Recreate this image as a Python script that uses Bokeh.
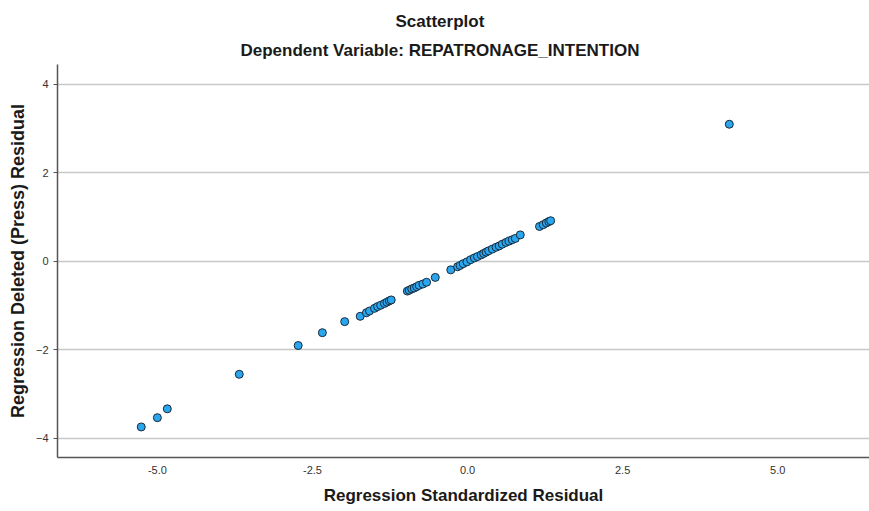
from bokeh.plotting import figure
from bokeh.models import Title, FixedTicker, CustomJSTickFormatter, Range1d
from bokeh.embed import file_html
from bokeh.resources import INLINE

# Regression Standardized Residual (x) vs Regression Deleted (Press) Residual (y)
x_resid = [-5.26, -5.00, -4.84, -3.68, -2.73, -2.34, -1.98, -1.73, -1.63, -1.58,
           -1.50, -1.45, -1.40, -1.34, -1.30, -1.26, -1.23,
           -0.97, -0.94, -0.90, -0.86, -0.82, -0.78, -0.72, -0.66, -0.52,
           -0.27, -0.16, -0.12, -0.07, -0.01, 0.05, 0.11, 0.16, 0.22, 0.26,
           0.30, 0.34, 0.40, 0.46, 0.51, 0.56, 0.62, 0.67, 0.72, 0.77, 0.85,
           1.16, 1.22, 1.27, 1.31, 1.34, 4.22]
y_press = [-3.74, -3.53, -3.33, -2.55, -1.90, -1.61, -1.36, -1.24, -1.16, -1.12,
           -1.06, -1.02, -0.99, -0.95, -0.92, -0.89, -0.87,
           -0.67, -0.65, -0.62, -0.60, -0.57, -0.54, -0.51, -0.47, -0.36,
           -0.19, -0.12, -0.09, -0.05, -0.01, 0.04, 0.08, 0.11, 0.15, 0.18,
           0.21, 0.24, 0.28, 0.32, 0.35, 0.39, 0.43, 0.46, 0.49, 0.52, 0.60,
           0.79, 0.83, 0.87, 0.90, 0.92, 3.10]
x_ticks = [-5.0, -2.5, 0.0, 2.5, 5.0]
y_ticks = [-4, -2, 0, 2, 4]

FONT = "Liberation Sans"

p = figure(width=869, height=511, output_backend="svg", toolbar_location=None,
           x_range=Range1d(-6.61, 6.48), y_range=Range1d(-4.43, 4.45),
           min_border_left=57, min_border_right=0, min_border_bottom=54,
           min_border_top=64)
# main title (outermost)
p.title.text = "Scatterplot"
p.title.align = "left"
p.title.offset = 338
p.title.standoff = 6
p.title.text_font = FONT
p.title.text_font_size = "17px"
p.title.text_font_style = "bold"
p.title.text_color = "#1a1a1a"
# subtitle (closest to the frame)
p.add_layout(Title(text="Dependent Variable: REPATRONAGE_INTENTION", align="left",
                   offset=183, standoff=10, text_font=FONT, text_font_size="17px",
                   text_font_style="bold", text_color="#1a1a1a"), "above")

p.outline_line_color = None
p.xgrid.grid_line_color = None
p.ygrid.grid_line_color = "#c8c8c8"
p.ygrid.grid_line_width = 1.5
p.ygrid.ticker = FixedTicker(ticks=y_ticks)

p.xaxis.ticker = FixedTicker(ticks=x_ticks)
p.yaxis.ticker = FixedTicker(ticks=y_ticks)
p.xaxis.formatter = CustomJSTickFormatter(code="return tick.toFixed(1);")
for ax in (p.xaxis[0], p.yaxis[0]):
    ax.axis_line_color = "#555555"
    ax.axis_line_width = 1.5
    ax.major_tick_line_color = "#555555"
    ax.major_tick_out = 4
    ax.major_tick_in = 0
    ax.minor_tick_line_color = None
    ax.major_label_text_font = FONT
    ax.major_label_text_font_size = "11px"
    ax.major_label_text_color = "#333333"
    ax.axis_label_text_font = FONT
    ax.axis_label_text_font_size = "17px"
    ax.axis_label_text_font_style = "bold"
    ax.axis_label_text_color = "#1a1a1a"
p.xaxis.axis_label = "Regression Standardized Residual"
p.yaxis.axis_label = "Regression Deleted (Press) Residual"
p.yaxis.axis_label_text_font_size = "18px"
p.xaxis.major_tick_line_color = None
p.xaxis.major_tick_out = 0
p.xaxis.major_label_standoff = 8
p.xaxis.axis_label_standoff = 9
p.yaxis.major_label_standoff = 5
p.yaxis.axis_label_standoff = 5

p.scatter(x_resid, y_press, size=8, fill_color="#2aa6ee",
          line_color="#1a2a3a", line_width=1)

open("out.html", "w").write(file_html(p, INLINE))
